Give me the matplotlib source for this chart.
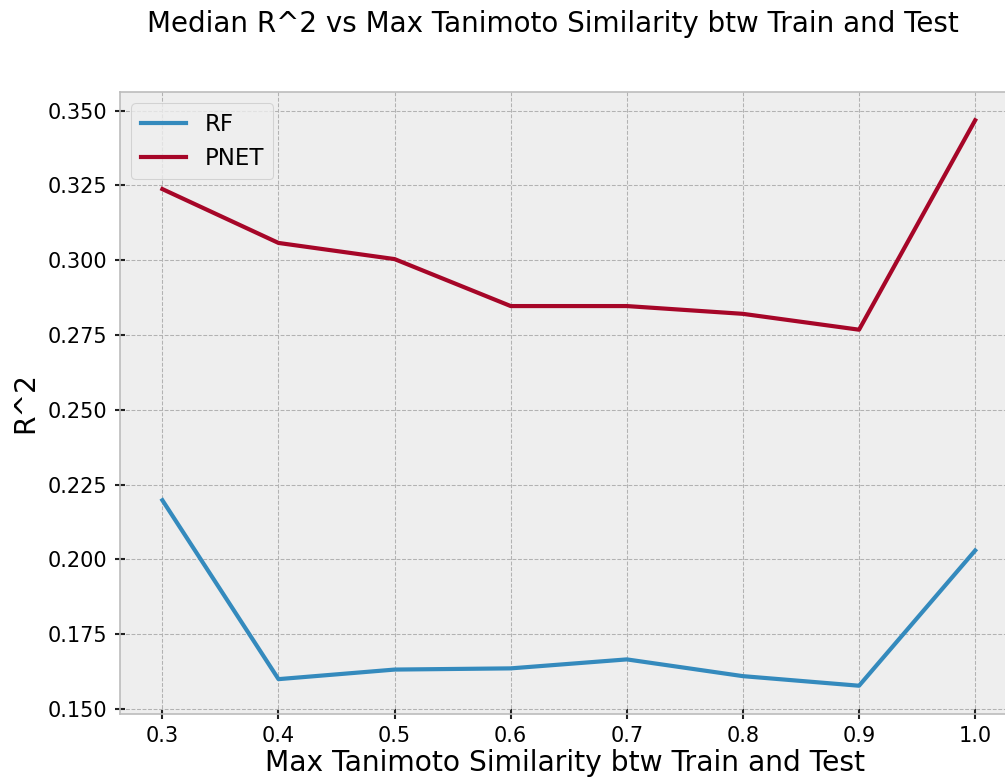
import numpy as np
import matplotlib.pyplot as plt

plt.style.use('bmh')

similarity = [0.3, 0.4, 0.5, 0.6, 0.7, 0.8, 0.9, 1.0]
rf_r2 = [0.2198, 0.1600, 0.1632, 0.1636, 0.1666, 0.1610, 0.1578, 0.2030]
pnet_r2 = [0.3238, 0.3058, 0.3004, 0.2847, 0.2847, 0.2821, 0.2768, 0.3468]

fig = plt.figure(figsize=(6.7, 5.2), dpi=150)
# axes run past the right edge, as in the cropped original
ax = fig.add_axes([120 / 1005, 1 - 714 / 780, 890 / 1005, 622 / 780])
ax.plot(similarity, rf_r2, label="RF")
ax.plot(similarity, pnet_r2, label="PNET")
ax.set_xlim(0.2635, 1.030)
ax.tick_params(direction="inout", length=5, width=1, color="#222222")
ax.legend(loc="upper left", fontsize=11)
ax.set_xlabel("Max Tanimoto Similarity btw Train and Test", fontsize=13.5, labelpad=1)
ax.set_ylabel("R^2", fontsize=13.5)
fig.text(553 / 1005, 1 - 24 / 780, "Median R^2 vs Max Tanimoto Similarity btw Train and Test",
         ha="center", va="center", fontsize=13.3)
fig.savefig("out.png", dpi=150)
